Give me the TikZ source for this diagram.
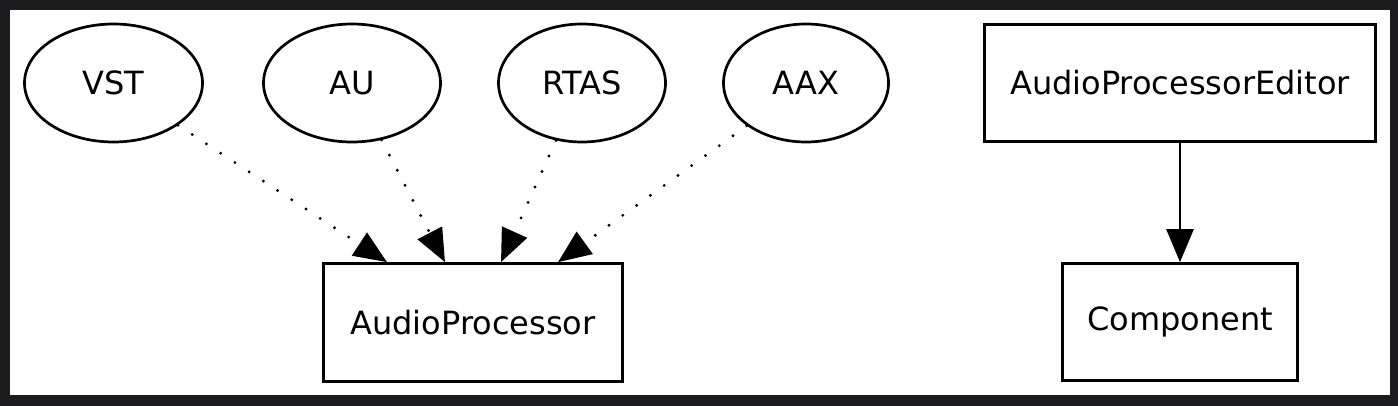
\documentclass[tikz,border=0pt]{standalone}
\usepackage{fontspec}
\setmainfont{DejaVu Sans}
\usetikzlibrary{shapes.geometric,arrows.meta,calc}
\definecolor{framecol}{RGB}{28,28,30}
\begin{document}
\begin{tikzpicture}[x=1pt,y=-1pt,
  every node/.style={font=\fontsize{32}{38}\selectfont, line width=2.7pt, inner sep=0pt},
  fmt/.style={draw, ellipse, minimum height=118pt},
  box/.style={draw, rectangle, minimum height=118pt},
  tipstyle/.style={-{Triangle[length=33pt,width=27pt]}},
  dotedge/.style={tipstyle, line width=3.2pt, line cap=round, dash pattern=on 0pt off 17pt},
  solidedge/.style={tipstyle, line width=2.7pt}]
  % frame
  \fill[framecol] (0,0) rectangle (1398,406);
  \fill[white] (10,10) rectangle (1390,395);
  \useasboundingbox (0,0) rectangle (1398,406);
  % nodes
  \node[fmt, minimum width=178pt] (vst)  at (113.5,83) {VST};
  \node[fmt, minimum width=177pt] (au)   at (352,83)   {AU};
  \node[fmt, minimum width=167pt] (rtas) at (582,83)   {RTAS};
  \node[fmt, minimum width=165pt] (aax)  at (806,83)   {AAX};
  \node[box, minimum width=299pt, minimum height=118pt] (ap) at (473,322.5) {AudioProcessor};
  \node[box, minimum width=391pt, minimum height=117pt] (ed) at (1180,83) {AudioProcessorEditor};
  \node[box, minimum width=235pt, minimum height=117pt] (comp) at (1180,322) {Component};
  % arrow targets on the top edge of AudioProcessor
  \coordinate (t1) at ($(ap.north)+(-86,0)$);
  \coordinate (t2) at ($(ap.north)+(-28,0)$);
  \coordinate (t3) at ($(ap.north)+(28,0)$);
  \coordinate (t4) at ($(ap.north)+(85,0)$);
  % edges
  \draw[dotedge] (vst) -- (t1);
  \draw[dotedge] (au) -- (t2);
  \draw[dotedge] (rtas) -- (t3);
  \draw[dotedge] (aax) -- (t4);
  \draw[solidedge] (ed) -- (comp);
\end{tikzpicture}
\end{document}
